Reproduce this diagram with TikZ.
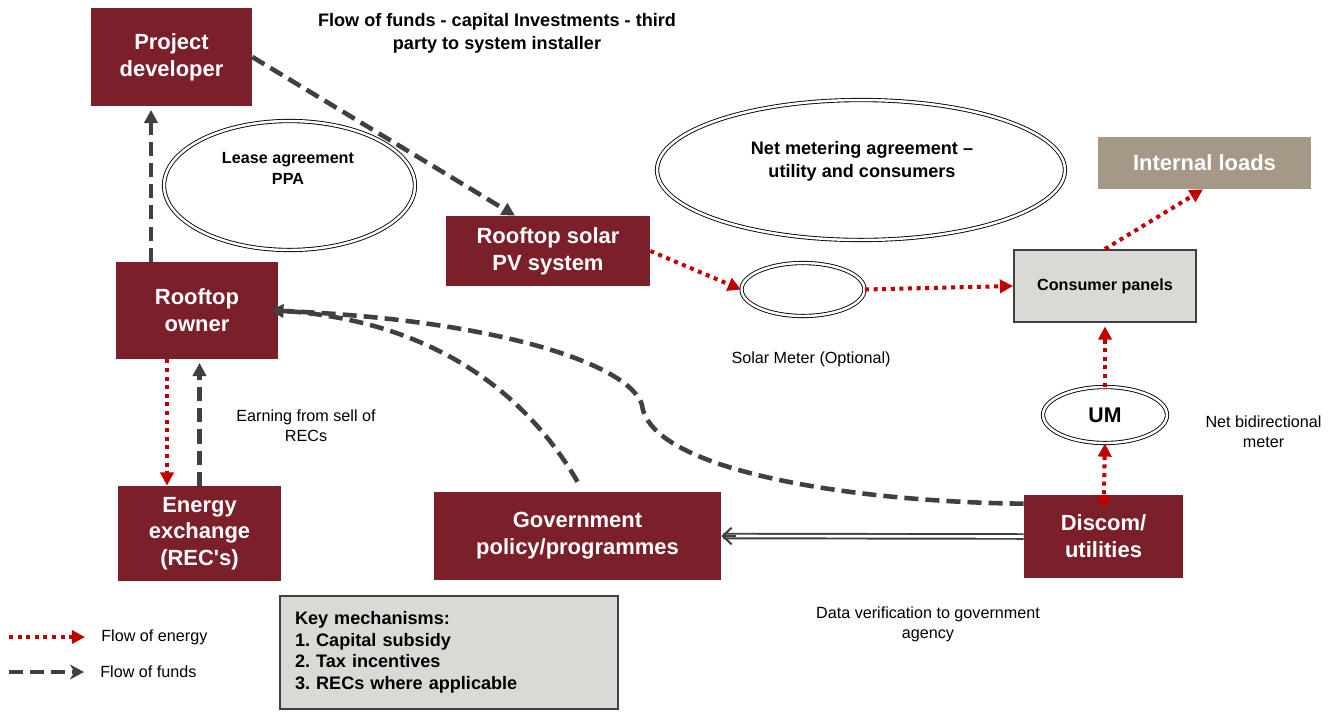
\documentclass[tikz,border=0pt]{standalone}
\usepackage{xcolor}
\usepackage{fontspec}
\setmainfont{Liberation Sans}
\usetikzlibrary{shapes.geometric,arrows.meta}
\definecolor{maroon}{HTML}{7B1F2A}
\definecolor{taupe}{HTML}{A69886}
\definecolor{panelgray}{HTML}{DAD9D5}
\definecolor{darkline}{HTML}{404040}
\definecolor{energyred}{HTML}{C00000}
\frenchspacing

\begin{document}
\begin{tikzpicture}[x=0.02cm,y=-0.02cm]
			\tikzstyle{actor} = [fill=maroon, text=white, align=center, inner sep=0pt, font=\fontsize{12.5}{15.3}\selectfont\bfseries]
			\tikzstyle{agreement} = [ellipse, draw=black, double, double distance=1.4pt, line width=0.5pt, inner sep=0pt]
			\tikzstyle{caption} = [align=center, inner sep=0pt, font=\fontsize{9.2}{11.3}\selectfont]
			\tikzstyle{heading} = [align=center, inner sep=0pt, font=\fontsize{10.3}{13}\selectfont\bfseries]
			\tikzstyle{panel} = [draw=darkline, line width=1.1pt, fill=panelgray]
			\tikzset{flowtip/.tip = {Triangle[length=7.5pt,width=7.5pt]}}
			\tikzset{energy/.style = {draw=energyred, line width=2.3pt, dash pattern=on 2.3pt off 2.6pt, -flowtip}}
			\tikzset{fund/.style = {draw=darkline, line width=2.6pt, dash pattern=on 8pt off 4pt, -flowtip}}
			\tikzset{report/.style = {draw=darkline, line width=1.1pt, double=white, double distance=1.5pt}}
			
			\useasboundingbox (0,0) rectangle (1339,711);
			
			\node[actor, minimum width=3.22cm, minimum height=1.96cm](proj) at (171.5,57) {Project\\developer};
			\node[actor, minimum width=4.08cm, minimum height=1.40cm](pv) at (548,251) {Rooftop solar\\PV system};
			\node[actor, minimum width=3.24cm, minimum height=1.94cm](owner) at (197,310.5) {Rooftop\\owner};
			\node[actor, minimum width=3.26cm, minimum height=1.90cm, font=\fontsize{12.5}{15}\selectfont\bfseries](exch) at (199.5,533.5) {Energy\\exchange\\(REC\textquotesingle s)};
			\node[actor, minimum width=5.74cm, minimum height=1.76cm](gov) at (577.5,536) {Government\\policy/programmes};
			\node[actor, minimum width=3.18cm, minimum height=1.66cm](disc) at (1103.5,536.5) {Discom/\\utilities};
			\node[actor, fill=taupe, minimum width=4.26cm, minimum height=1.04cm](loads) at (1204.5,163) {Internal loads};
			\node[panel, minimum width=3.64cm, minimum height=1.44cm, font=\fontsize{9.2}{11}\selectfont\bfseries](panels) at (1105,286) {Consumer panels};
			
			\node[agreement, minimum width=5.02cm, minimum height=2.58cm](lease) at (289.5,185.5) {};
			\node[heading, font=\fontsize{9.2}{11.9}\selectfont\bfseries](leasetext) at (288,168) {Lease agreement\\PPA};
			\node[agreement, minimum width=8.16cm, minimum height=2.80cm](netmeter) at (861,170) {};
			\node[heading](nettext) at (862,161.5) {Net metering agreement --\\utility and consumers};
			\node[agreement, minimum width=2.46cm, minimum height=1.06cm](meter) at (803,289.5) {};
			\node[agreement, minimum width=2.48cm, minimum height=1.12cm, font=\fontsize{12.1}{14}\selectfont\bfseries](um) at (1105,415) {UM};
			
			\node[heading](title) at (497,33.5) {Flow of funds - capital Investments - third\\party to system installer};
			\node[caption](meterlabel) at (811,359) {Solar Meter (Optional)};
			\node[caption](umlabel) at (1263.5,431.5) {Net bidirectional\\meter};
			\node[caption](earnlabel) at (306,426) {Earning from sell of\\RECs};
			\node[caption](datalabel) at (928,624) {Data verification to government\\agency};
			
			\node[panel, minimum width=6.76cm, minimum height=2.26cm, text width=6.16cm, inner xsep=0.3cm, align=left, font=\fontsize{10.3}{12.3}\selectfont\bfseries](key) at (449,652.5) {Key mechanisms:\\1. Capital subsidy\\2. Tax incentives\\3. RECs where applicable};
			
			\draw[fund, shorten >=2pt](owner.north) ++(-0.92cm,0) coordinate (ownertop) -- (ownertop |- proj.south);
			\draw[fund](proj.east) to ([xshift=-0.66cm]pv.north);
			\draw[energy](pv.east) to (meter.west);
			\draw[energy](meter.east) to (panels.west);
			\draw[energy](panels.north) to ([xshift=-0.03cm]loads.south);
			\draw[energy, shorten >=2pt](um.north) to (panels.south);
			\draw[energy, flowtip-flowtip](um.south) to ([yshift=-0.28cm]disc.north);
			\draw[energy](owner.south) ++(-0.6cm,0) coordinate (ownerbot) -- (ownerbot |- exch.north);
			\draw[fund, shorten >=2pt](exch.north) to (exch.north |- owner.south);
			\draw[report](disc.west) to ([xshift=0.04cm]gov.east);
			\draw[draw=darkline, line width=1.2pt, -{Straight Barb[length=5pt,width=9.5pt]}]([xshift=0.3cm]gov.east) to (gov.east);
			
			\coordinate (bend) at (642,405);
			\draw[fund]([yshift=-0.18cm]disc.north west) .. controls (850,502) and (650,470) .. (bend) .. controls (630,365) and (500,320) .. ([xshift=-0.16cm]owner.east);
			\draw[fund, -]([yshift=0.2cm]gov.north) .. controls (530,400) and (440,320) .. (owner.east);
			
			\node[caption, anchor=west](energykey) at (101,637) {Flow of energy};
			\node[caption, anchor=west](fundkey) at (100,672) {Flow of funds};
			\coordinate (energystart) at (9,637);
			\coordinate (fundstart) at (9,672);
			\draw[energy](energystart) to ([xshift=-0.32cm]energykey.west);
			\draw[fund, -{Stealth[length=8pt,width=8.5pt]}](fundstart) to ([xshift=-0.32cm]fundkey.west);
			
			\end{tikzpicture}
\end{document}
